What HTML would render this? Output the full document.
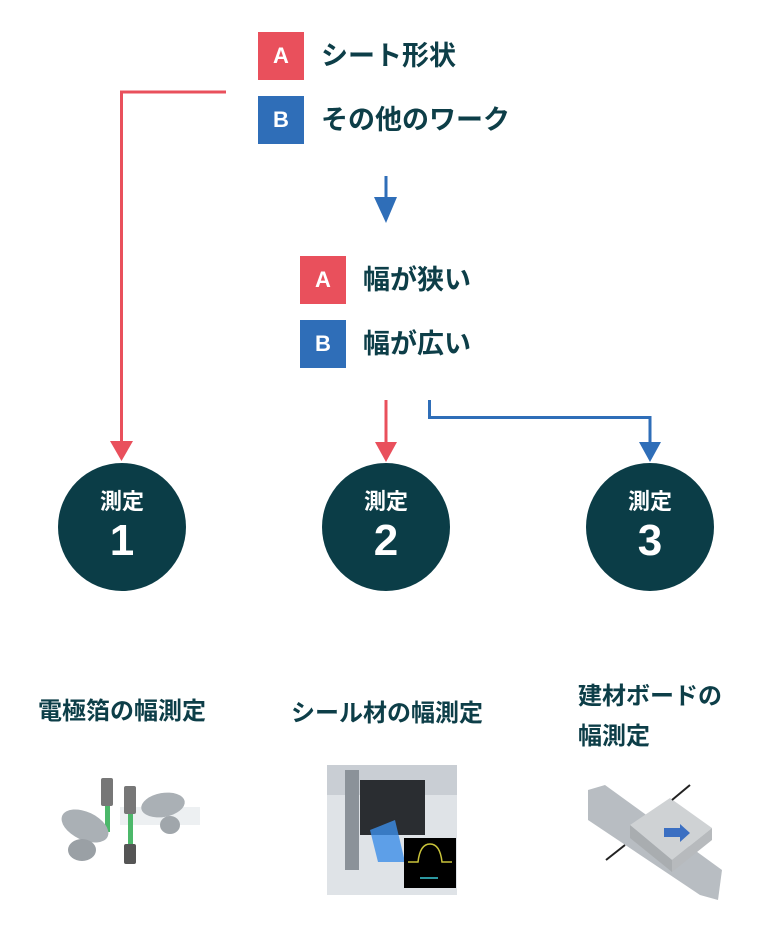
<!DOCTYPE html>
<html><head><meta charset="utf-8"><style>
*{margin:0;padding:0;box-sizing:border-box}
body{width:772px;height:936px;background:#fff;position:relative;overflow:hidden;font-family:"Liberation Sans","Noto Sans CJK JP",sans-serif;color:#0d3e48}
.abs{position:absolute}
.box{position:absolute;width:46px;height:48px;color:#fff;font-weight:bold;font-size:22px;text-align:center;line-height:48px}
.r{background:#e9505c}.b{background:#2f6eb8}
.t{position:absolute;font-weight:bold;font-size:27px;line-height:48px;white-space:nowrap}
.c{position:absolute;width:128px;height:128px;border-radius:50%;background:#0b3d47;color:#fff;text-align:center;font-weight:bold}
.c .s{font-size:22px;margin-top:26px;line-height:26px}
.c .n{font-size:44px;line-height:52px}
.lab{position:absolute;font-weight:bold;font-size:24px;white-space:nowrap;line-height:40px}
</style></head><body>
<svg class="abs" style="left:0;top:0" width="772" height="936">
<g fill="none" stroke-width="3">
<path d="M226 92H121.5V443" stroke="#e9505c"/>
<path d="M386 176V198" stroke="#2f6eb8"/>
<path d="M386 400V446" stroke="#e9505c"/>
<path d="M429.5 400V417.5H650V445" stroke="#2f6eb8"/>
</g>
<polygon points="110,441 133,441 121.5,461" fill="#e9505c"/>
<polygon points="374,197 397,197 386,223" fill="#2f6eb8"/>
<polygon points="375,442 397,442 386,462" fill="#e9505c"/>
<polygon points="639,442 661,442 650,462" fill="#2f6eb8"/>
<g>
<rect x="120" y="807" width="80" height="18" fill="#e8ecef" opacity=".8"/>
<rect x="105" y="790" width="5" height="42" fill="#4cb86a"/>
<rect x="128" y="800" width="5" height="44" fill="#4cb86a"/>
<rect x="101" y="778" width="12" height="28" rx="2" fill="#777"/>
<rect x="124" y="786" width="12" height="28" rx="2" fill="#777"/>
<rect x="124" y="844" width="12" height="20" rx="2" fill="#555"/>
<ellipse cx="85" cy="826" rx="25" ry="14" fill="#aab0b5" transform="rotate(25 85 826)"/>
<ellipse cx="82" cy="850" rx="14" ry="11" fill="#9aa0a5"/>
<ellipse cx="163" cy="805" rx="22" ry="12" fill="#aab0b5" transform="rotate(-10 163 805)"/>
<ellipse cx="170" cy="825" rx="10" ry="9" fill="#a0a6ab"/>
</g>
<g>
<rect x="327" y="765" width="130" height="130" fill="#dfe3e7"/>
<rect x="327" y="765" width="130" height="30" fill="#c9ced4"/>
<rect x="360" y="780" width="65" height="55" fill="#2a2d31"/>
<rect x="345" y="770" width="14" height="100" fill="#8b9299"/>
<polygon points="370,830 395,820 405,862 378,862" fill="#3c8de8" opacity=".8"/>
<rect x="404" y="838" width="52" height="50" fill="#000"/>
<path d="M408 862h10q2-18 12-18t12 18h10" stroke="#c9c33a" fill="none" stroke-width="1.5"/>
<path d="M420 878h18" stroke="#3ac9d6" stroke-width="1.5"/>
</g>
<g>
<polygon points="588,790 605,785 722,870 718,900 700,895 588,820" fill="#b8bdc2"/>
<polygon points="630,825 670,798 712,828 672,860" fill="#cfd2d4"/>
<polygon points="630,825 672,860 672,872 630,838" fill="#a9adb0"/>
<polygon points="672,860 712,828 712,840 672,872" fill="#b7babd"/>
<polygon points="664,828 680,828 680,824 690,833 680,842 680,837 664,837" fill="#3b6fc2"/>
<line x1="672" y1="800" x2="690" y2="785" stroke="#222" stroke-width="2"/>
<line x1="606" y1="860" x2="625" y2="845" stroke="#222" stroke-width="2"/>
</g>
</svg>
<div class="box r" style="left:258px;top:32px">A</div>
<div class="t" style="left:321px;top:32px">シート形状</div>
<div class="box b" style="left:258px;top:96px">B</div>
<div class="t" style="left:321px;top:96px">その他のワーク</div>
<div class="box r" style="left:300px;top:256px">A</div>
<div class="t" style="left:363px;top:256px">幅が狭い</div>
<div class="box b" style="left:300px;top:320px">B</div>
<div class="t" style="left:363px;top:320px">幅が広い</div>
<div class="c" style="left:58px;top:463px"><div class="s">測定</div><div class="n">1</div></div>
<div class="c" style="left:322px;top:463px"><div class="s">測定</div><div class="n">2</div></div>
<div class="c" style="left:586px;top:463px"><div class="s">測定</div><div class="n">3</div></div>
<div class="lab" style="left:38px;top:692px">電極箔の幅測定</div>
<div class="lab" style="left:291px;top:694px">シール材の幅測定</div>
<div class="lab" style="left:578px;top:677px">建材ボードの<br>幅測定</div>
</body></html>
